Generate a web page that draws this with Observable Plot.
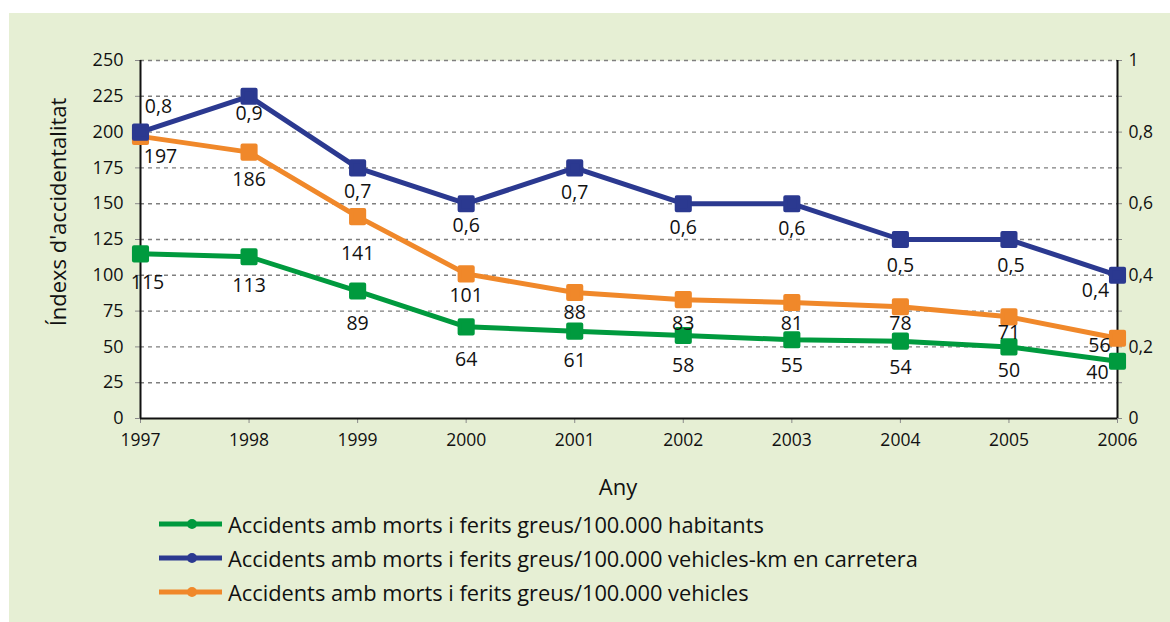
<!DOCTYPE html>
<html>
<head>
<meta charset="utf-8">
<script src="https://cdn.jsdelivr.net/npm/d3@7"></script>
<script src="https://cdn.jsdelivr.net/npm/@observablehq/plot@0.6"></script>
<style>
  html, body { margin: 0; padding: 0; background: #ffffff; }
  body { width: 1170px; height: 622px; position: relative; overflow: hidden; font-family: "Open Sans", sans-serif; color: #111; }
  #panel { position: absolute; left: 9px; top: 13px; width: 1161px; height: 609px; background: #e6efd4; }
  #chart { position: absolute; left: 0; top: 0; }
  #ylabel { position: absolute; left: 57px; top: 212px; transform: translate(-50%, -50%) rotate(-90deg); font-size: 22px; white-space: nowrap; }
  #xlabel { position: absolute; left: 618px; top: 486px; transform: translate(-50%, -50%); font-size: 22px; }
  #legend { position: absolute; left: 159px; top: 507px; }
  .row { display: flex; align-items: center; height: 34px; font-size: 21.8px; white-space: nowrap; }
  .row svg { margin-right: 6px; }
</style>
</head>
<body>
<div id="panel"></div>
<div id="chart"></div>
<div id="ylabel">Índexs d'accidentalitat</div>
<div id="xlabel">Any</div>
<div id="legend"></div>
<script>
// ---- data ----
const years = [1997, 1998, 1999, 2000, 2001, 2002, 2003, 2004, 2005, 2006];
const perInhabitants = [115, 113, 89, 64, 61, 58, 55, 54, 50, 40];      // /100.000 habitants (left axis)
const perVehicleKm = [0.8, 0.9, 0.7, 0.6, 0.7, 0.6, 0.6, 0.5, 0.5, 0.4]; // /100.000 vehicles-km (right axis)
const perVehicles = [197, 186, 141, 101, 88, 83, 81, 78, 71, 56];       // /100.000 vehicles (left axis)
const leftTicks = [0, 25, 50, 75, 100, 125, 150, 175, 200, 225, 250];
const rightTickLabels = ["0", "0,2", "0,4", "0,6", "0,8", "1"];
const seriesNames = [
  "Accidents amb morts i ferits greus/100.000 habitants",
  "Accidents amb morts i ferits greus/100.000 vehicles-km en carretera",
  "Accidents amb morts i ferits greus/100.000 vehicles"
];

// ---- style / layout ----
const colors = ["#009a3e", "#2b3990", "#f0882a"];
const light = ["#3fbf6a", "#5a67b8", "#f6ad64"];
const rightMax = 1;
const leftMax = 250;
const fmtComma = v => String(v).replace(".", ",");

// label nudges in pixels [dx, dy] per point
const nudgeGreen = [[7,29],[0,29],[0,33],[0,33],[0,30],[0,30],[0,26],[0,27],[0,24],[-20,12]];
const nudgeBlue  = [[18,-25],[0,17],[0,24],[0,22],[0,25],[0,24],[0,25],[0,26],[2,26],[-22,15]];
const nudgeOrange= [[20,20],[0,28],[0,37],[0,22],[0,20],[0,24],[0,21],[0,17],[0,16],[-18,7]];

const toLeft = v => v / rightMax * leftMax;

const green = years.map((x, i) => ({x, y: perInhabitants[i], label: String(perInhabitants[i])}));
const blue = years.map((x, i) => ({x, y: toLeft(perVehicleKm[i]), label: fmtComma(perVehicleKm[i])}));
const orange = years.map((x, i) => ({x, y: perVehicles[i], label: String(perVehicles[i])}));

const majorRight = leftTicks.filter(t => t % 50 === 0);

function seriesMarks(data, color, lightColor) {
  return [
    Plot.line(data, {x: "x", y: "y", stroke: color, strokeWidth: 5}),
    Plot.dot(data, {x: "x", y: "y", symbol: "square", r: 7.4, fill: color, stroke: color, strokeWidth: 4, strokeLinejoin: "round"}),
    Plot.dot(data, {x: "x", y: "y", symbol: "plus", r: 3, fill: lightColor})
  ];
}
function labelMarks(data, nudges) {
  return data.map((d, i) => Plot.text([d], {x: "x", y: "y", text: "label", dx: nudges[i][0], dy: nudges[i][1], fontSize: 19.5, fill: "#111", lineAnchor: "middle"}));
}

const chart = Plot.plot({
  width: 1170,
  height: 470,
  marginLeft: 140,
  marginRight: 53,
  marginTop: 60,
  marginBottom: 52,
  style: {fontFamily: "'Open Sans', sans-serif", background: "transparent", overflow: "visible"},
  x: {type: "point", domain: years, padding: 0, round: false},
  y: {domain: [0, leftMax]},
  marks: [
    Plot.frame({fill: "white", stroke: null}),
    Plot.gridY(leftTicks.slice(1), {stroke: "#7f7f7f", strokeOpacity: 1, strokeWidth: 1.4, strokeDasharray: "4,4"}),
    Plot.axisY(leftTicks, {anchor: "left", tickSize: 5, tickPadding: 12, stroke: "#8a8a8a", fill: "#111", fontSize: 18, label: null}),
    Plot.axisY(leftTicks, {anchor: "right", tickSize: 4, tickPadding: 7, stroke: "#8a8a8a", fill: "#111", fontSize: 17.5, label: null,
      tickFormat: (t) => { const k = majorRight.indexOf(t); return k >= 0 ? rightTickLabels[k] : ""; }}),
    Plot.axisX(years, {tickSize: 5, tickPadding: 10, stroke: "#8a8a8a", fill: "#111", fontSize: 17.5, label: null, tickFormat: d => String(d)}),
    Plot.ruleY([0], {stroke: "#111", strokeWidth: 2}),
    Plot.ruleX([years[0], years[years.length - 1]], {stroke: "#111", strokeWidth: 2}),
    ...seriesMarks(green, colors[0], light[0]),
    ...seriesMarks(orange, colors[2], light[2]),
    ...seriesMarks(blue, colors[1], light[1]),
    ...labelMarks(green, nudgeGreen),
    ...labelMarks(orange, nudgeOrange),
    ...labelMarks(blue, nudgeBlue)
  ]
});
document.getElementById("chart").appendChild(chart);

// legend
const legend = document.getElementById("legend");
seriesNames.forEach((name, i) => {
  const row = document.createElement("div");
  row.className = "row";
  row.innerHTML = `<svg width="63" height="12"><line x1="0" x2="63" y1="6" y2="6" stroke="${colors[i]}" stroke-width="5"/><circle cx="33" cy="6" r="5" fill="${colors[i]}"/></svg><span>${name}</span>`;
  legend.appendChild(row);
});
</script>
</body>
</html>
